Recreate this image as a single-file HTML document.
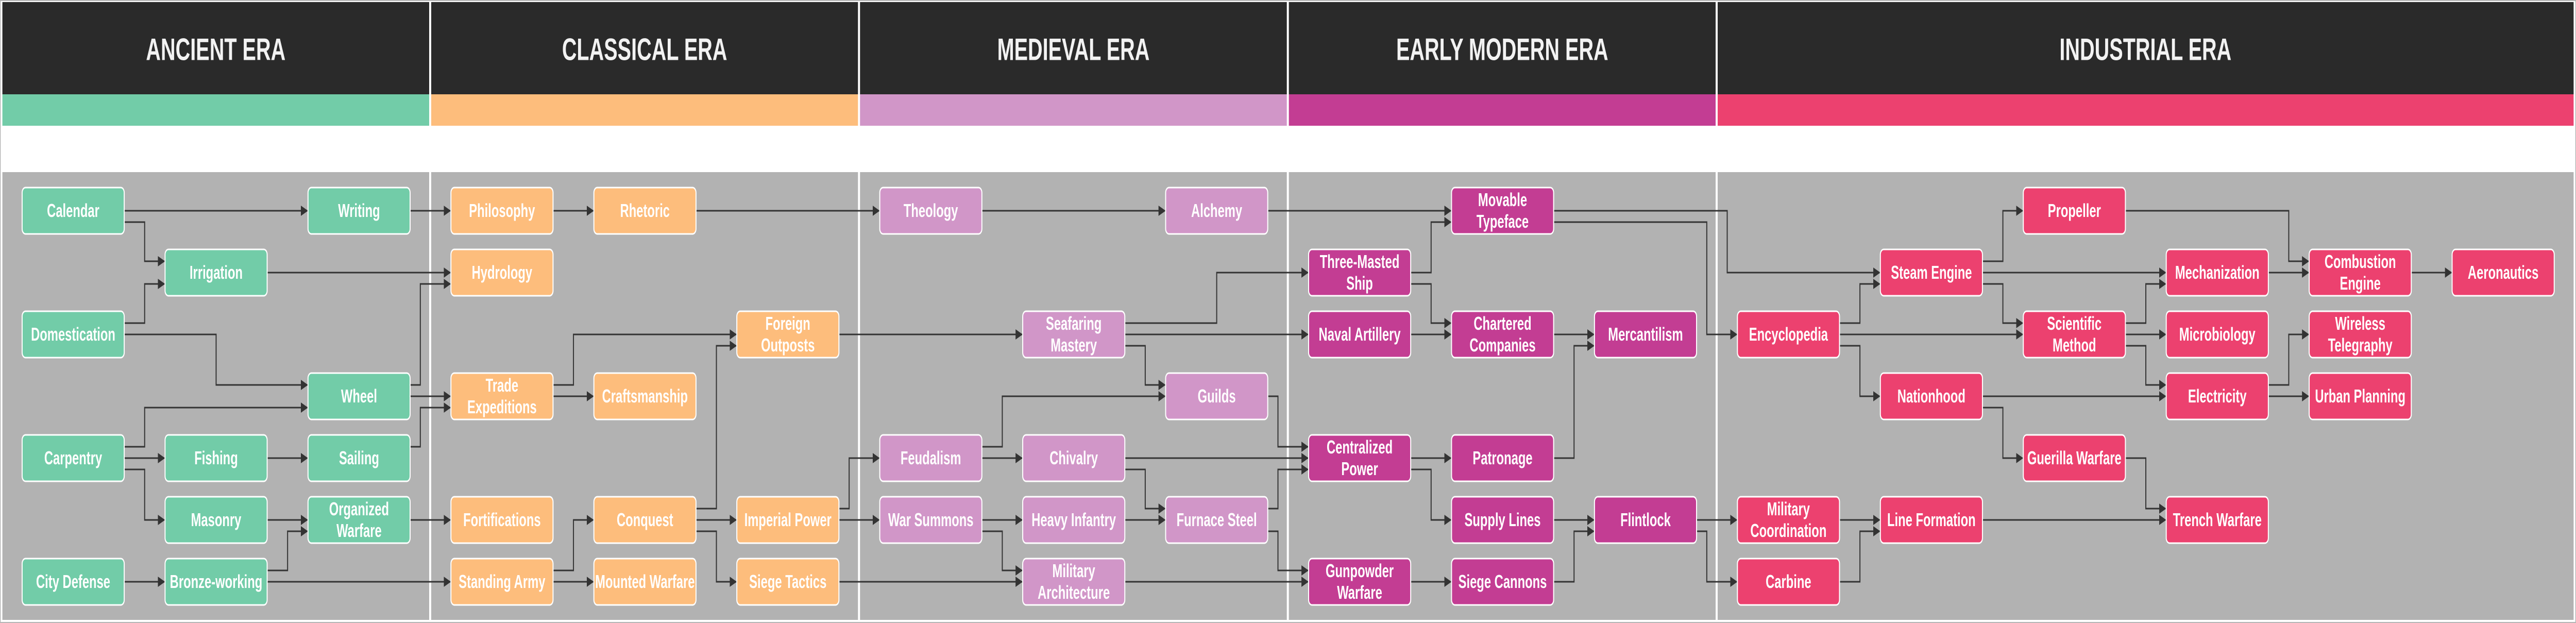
<!DOCTYPE html>
<html><head><meta charset="utf-8"><style>
html,body{margin:0;padding:0;background:#fff;width:100%;height:100%;overflow:hidden}
svg{display:block;width:100vw;height:100vh}
.h{font-family:"Liberation Sans",Arial,sans-serif;font-weight:bold;font-size:60px;fill:#f2f2f2;text-anchor:middle;dominant-baseline:central}
.t{font-family:"Liberation Sans",Arial,sans-serif;font-weight:bold;font-size:36px;fill:#fff;text-anchor:middle;dominant-baseline:central}
.n rect{stroke:#fff;stroke-width:3}
.e path{fill:none;stroke:#333;stroke-width:3;marker-end:url(#a)}
</style></head><body>
<svg viewBox="0 0 7569 1209" preserveAspectRatio="none" xmlns="http://www.w3.org/2000/svg">
<defs><marker id="a" markerUnits="userSpaceOnUse" markerWidth="22" markerHeight="22" refX="21" refY="10" orient="auto"><path d="M0,0 L21,10 L0,20 z" fill="#333"/></marker></defs>
<rect x="0" y="0" width="7569" height="1209" fill="#fff" stroke="#b5b5b5" stroke-width="4"/>
<rect x="7" y="4" width="1254" height="179" fill="#2a2a2a"/><rect x="7" y="183" width="1254" height="61" fill="#72cca8"/>
<rect x="1267" y="4" width="1254" height="179" fill="#2a2a2a"/><rect x="1267" y="183" width="1254" height="61" fill="#fdbd7c"/>
<rect x="2527" y="4" width="1254" height="179" fill="#2a2a2a"/><rect x="2527" y="183" width="1254" height="61" fill="#d196c8"/>
<rect x="3787" y="4" width="1254" height="179" fill="#2a2a2a"/><rect x="3787" y="183" width="1254" height="61" fill="#c33d93"/>
<rect x="5047" y="4" width="2515" height="179" fill="#2a2a2a"/><rect x="5047" y="183" width="2515" height="61" fill="#ec416f"/>
<text class="h" x="634" y="96">ANCIENT ERA</text>
<text class="h" x="1894" y="96">CLASSICAL ERA</text>
<text class="h" x="3154" y="96">MEDIEVAL ERA</text>
<text class="h" x="4414" y="96">EARLY MODERN ERA</text>
<text class="h" x="6304" y="96">INDUSTRIAL ERA</text>
<rect x="7" y="334" width="1254" height="869" fill="#b2b2b2"/>
<rect x="1267" y="334" width="1254" height="869" fill="#b2b2b2"/>
<rect x="2527" y="334" width="1254" height="869" fill="#b2b2b2"/>
<rect x="3787" y="334" width="1254" height="869" fill="#b2b2b2"/>
<rect x="5047" y="334" width="2515" height="869" fill="#b2b2b2"/>
<g class="e">
<path d="M365,409H905"/>
<path d="M365,431H425V507H485"/>
<path d="M365,627H425V551H485"/>
<path d="M365,649H635V747H905"/>
<path d="M365,867H425V791H905"/>
<path d="M365,889H485"/>
<path d="M365,911H425V1009H485"/>
<path d="M785,889H905"/>
<path d="M785,1009H905"/>
<path d="M785,1107H845V1031H905"/>
<path d="M365,1129H485"/>
<path d="M1205,409H1325"/>
<path d="M785,529H1325"/>
<path d="M1205,747H1235V551H1325"/>
<path d="M1205,769H1325"/>
<path d="M1205,867H1235V791H1325"/>
<path d="M1205,1009H1325"/>
<path d="M785,1129H1325"/>
<path d="M1625,409H1745"/>
<path d="M2045,409H2585"/>
<path d="M1625,747H1685V649H2165"/>
<path d="M1625,769H1745"/>
<path d="M2045,987H2105V671H2165"/>
<path d="M2045,1009H2165"/>
<path d="M2045,1031H2105V1129H2165"/>
<path d="M1625,1107H1685V1009H1745"/>
<path d="M1625,1129H1745"/>
<path d="M2465,987H2495V889H2585"/>
<path d="M2465,1009H2585"/>
<path d="M2465,1129H3005"/>
<path d="M2465,649H3005"/>
<path d="M2885,409H3425"/>
<path d="M3725,409H4265"/>
<path d="M3305,627H3575V529H3845"/>
<path d="M3305,649H3845"/>
<path d="M3305,671H3365V747H3425"/>
<path d="M2885,867H2945V769H3425"/>
<path d="M2885,889H3005"/>
<path d="M3305,889H3845"/>
<path d="M3305,911H3365V987H3425"/>
<path d="M2885,1009H3005"/>
<path d="M2885,1031H2945V1107H3005"/>
<path d="M3305,1009H3425"/>
<path d="M3725,769H3755V867H3845"/>
<path d="M3725,987H3755V911H3845"/>
<path d="M3725,1031H3755V1107H3845"/>
<path d="M3305,1129H3845"/>
<path d="M4145,529H4205V431H4265"/>
<path d="M4145,551H4205V627H4265"/>
<path d="M4145,649H4265"/>
<path d="M4565,649H4685"/>
<path d="M4565,889H4625V671H4685"/>
<path d="M4145,889H4265"/>
<path d="M4145,911H4205V1009H4265"/>
<path d="M4565,1009H4685"/>
<path d="M4565,1129H4625V1031H4685"/>
<path d="M4145,1129H4265"/>
<path d="M4565,409H5075V529H5525"/>
<path d="M4565,431H5015V649H5105"/>
<path d="M4985,1009H5105"/>
<path d="M4985,1031H5015V1129H5105"/>
<path d="M5405,627H5465V551H5525"/>
<path d="M5405,649H5945"/>
<path d="M5405,671H5465V769H5525"/>
<path d="M5825,507H5885V409H5945"/>
<path d="M5825,529H6365"/>
<path d="M5825,551H5885V627H5945"/>
<path d="M5825,769H6365"/>
<path d="M5825,791H5885V889H5945"/>
<path d="M5405,1009H5525"/>
<path d="M5405,1129H5465V1031H5525"/>
<path d="M6245,409H6725V507H6785"/>
<path d="M6245,627H6305V551H6365"/>
<path d="M6245,649H6365"/>
<path d="M6245,671H6305V747H6365"/>
<path d="M6245,889H6305V987H6365"/>
<path d="M5825,1009H6365"/>
<path d="M6665,529H6785"/>
<path d="M6665,747H6725V649H6785"/>
<path d="M6665,769H6785"/>
<path d="M7085,529H7205"/>
</g>
<g class="n">
<g fill="#72cca8">
<rect x="65" y="364" width="300" height="90" rx="10"/>
<rect x="65" y="604" width="300" height="90" rx="10"/>
<rect x="65" y="844" width="300" height="90" rx="10"/>
<rect x="65" y="1084" width="300" height="90" rx="10"/>
<rect x="485" y="484" width="300" height="90" rx="10"/>
<rect x="485" y="844" width="300" height="90" rx="10"/>
<rect x="485" y="964" width="300" height="90" rx="10"/>
<rect x="485" y="1084" width="300" height="90" rx="10"/>
<rect x="905" y="364" width="300" height="90" rx="10"/>
<rect x="905" y="724" width="300" height="90" rx="10"/>
<rect x="905" y="844" width="300" height="90" rx="10"/>
<rect x="905" y="964" width="300" height="90" rx="10"/>
</g>
<g fill="#fdbd7c">
<rect x="1325" y="364" width="300" height="90" rx="10"/>
<rect x="1325" y="484" width="300" height="90" rx="10"/>
<rect x="1325" y="724" width="300" height="90" rx="10"/>
<rect x="1325" y="964" width="300" height="90" rx="10"/>
<rect x="1325" y="1084" width="300" height="90" rx="10"/>
<rect x="1745" y="364" width="300" height="90" rx="10"/>
<rect x="1745" y="724" width="300" height="90" rx="10"/>
<rect x="1745" y="964" width="300" height="90" rx="10"/>
<rect x="1745" y="1084" width="300" height="90" rx="10"/>
<rect x="2165" y="604" width="300" height="90" rx="10"/>
<rect x="2165" y="964" width="300" height="90" rx="10"/>
<rect x="2165" y="1084" width="300" height="90" rx="10"/>
</g>
<g fill="#d196c8">
<rect x="2585" y="364" width="300" height="90" rx="10"/>
<rect x="2585" y="844" width="300" height="90" rx="10"/>
<rect x="2585" y="964" width="300" height="90" rx="10"/>
<rect x="3005" y="604" width="300" height="90" rx="10"/>
<rect x="3005" y="844" width="300" height="90" rx="10"/>
<rect x="3005" y="964" width="300" height="90" rx="10"/>
<rect x="3005" y="1084" width="300" height="90" rx="10"/>
<rect x="3425" y="364" width="300" height="90" rx="10"/>
<rect x="3425" y="724" width="300" height="90" rx="10"/>
<rect x="3425" y="964" width="300" height="90" rx="10"/>
</g>
<g fill="#c33d93">
<rect x="3845" y="484" width="300" height="90" rx="10"/>
<rect x="3845" y="604" width="300" height="90" rx="10"/>
<rect x="3845" y="844" width="300" height="90" rx="10"/>
<rect x="3845" y="1084" width="300" height="90" rx="10"/>
<rect x="4265" y="364" width="300" height="90" rx="10"/>
<rect x="4265" y="604" width="300" height="90" rx="10"/>
<rect x="4265" y="844" width="300" height="90" rx="10"/>
<rect x="4265" y="964" width="300" height="90" rx="10"/>
<rect x="4265" y="1084" width="300" height="90" rx="10"/>
<rect x="4685" y="604" width="300" height="90" rx="10"/>
<rect x="4685" y="964" width="300" height="90" rx="10"/>
</g>
<g fill="#ec416f">
<rect x="5105" y="604" width="300" height="90" rx="10"/>
<rect x="5105" y="964" width="300" height="90" rx="10"/>
<rect x="5105" y="1084" width="300" height="90" rx="10"/>
<rect x="5525" y="484" width="300" height="90" rx="10"/>
<rect x="5525" y="724" width="300" height="90" rx="10"/>
<rect x="5525" y="964" width="300" height="90" rx="10"/>
<rect x="5945" y="364" width="300" height="90" rx="10"/>
<rect x="5945" y="604" width="300" height="90" rx="10"/>
<rect x="5945" y="844" width="300" height="90" rx="10"/>
<rect x="6365" y="484" width="300" height="90" rx="10"/>
<rect x="6365" y="604" width="300" height="90" rx="10"/>
<rect x="6365" y="724" width="300" height="90" rx="10"/>
<rect x="6365" y="964" width="300" height="90" rx="10"/>
<rect x="6785" y="484" width="300" height="90" rx="10"/>
<rect x="6785" y="604" width="300" height="90" rx="10"/>
<rect x="6785" y="724" width="300" height="90" rx="10"/>
<rect x="7205" y="484" width="300" height="90" rx="10"/>
</g>
</g>
<g>
<text class="t" x="215" y="409">Calendar</text>
<text class="t" x="215" y="649">Domestication</text>
<text class="t" x="215" y="889">Carpentry</text>
<text class="t" x="215" y="1129">City Defense</text>
<text class="t" x="635" y="529">Irrigation</text>
<text class="t" x="635" y="889">Fishing</text>
<text class="t" x="635" y="1009">Masonry</text>
<text class="t" x="635" y="1129">Bronze-working</text>
<text class="t" x="1055" y="409">Writing</text>
<text class="t" x="1055" y="769">Wheel</text>
<text class="t" x="1055" y="889">Sailing</text>
<text class="t" x="1055" y="988">Organized</text><text class="t" x="1055" y="1030">Warfare</text>
<text class="t" x="1475" y="409">Philosophy</text>
<text class="t" x="1475" y="529">Hydrology</text>
<text class="t" x="1475" y="748">Trade</text><text class="t" x="1475" y="790">Expeditions</text>
<text class="t" x="1475" y="1009">Fortifications</text>
<text class="t" x="1475" y="1129">Standing Army</text>
<text class="t" x="1895" y="409">Rhetoric</text>
<text class="t" x="1895" y="769">Craftsmanship</text>
<text class="t" x="1895" y="1009">Conquest</text>
<text class="t" x="1895" y="1129">Mounted Warfare</text>
<text class="t" x="2315" y="628">Foreign</text><text class="t" x="2315" y="670">Outposts</text>
<text class="t" x="2315" y="1009">Imperial Power</text>
<text class="t" x="2315" y="1129">Siege Tactics</text>
<text class="t" x="2735" y="409">Theology</text>
<text class="t" x="2735" y="889">Feudalism</text>
<text class="t" x="2735" y="1009">War Summons</text>
<text class="t" x="3155" y="628">Seafaring</text><text class="t" x="3155" y="670">Mastery</text>
<text class="t" x="3155" y="889">Chivalry</text>
<text class="t" x="3155" y="1009">Heavy Infantry</text>
<text class="t" x="3155" y="1108">Military</text><text class="t" x="3155" y="1150">Architecture</text>
<text class="t" x="3575" y="409">Alchemy</text>
<text class="t" x="3575" y="769">Guilds</text>
<text class="t" x="3575" y="1009">Furnace Steel</text>
<text class="t" x="3995" y="508">Three-Masted</text><text class="t" x="3995" y="550">Ship</text>
<text class="t" x="3995" y="649">Naval Artillery</text>
<text class="t" x="3995" y="868">Centralized</text><text class="t" x="3995" y="910">Power</text>
<text class="t" x="3995" y="1108">Gunpowder</text><text class="t" x="3995" y="1150">Warfare</text>
<text class="t" x="4415" y="388">Movable</text><text class="t" x="4415" y="430">Typeface</text>
<text class="t" x="4415" y="628">Chartered</text><text class="t" x="4415" y="670">Companies</text>
<text class="t" x="4415" y="889">Patronage</text>
<text class="t" x="4415" y="1009">Supply Lines</text>
<text class="t" x="4415" y="1129">Siege Cannons</text>
<text class="t" x="4835" y="649">Mercantilism</text>
<text class="t" x="4835" y="1009">Flintlock</text>
<text class="t" x="5255" y="649">Encyclopedia</text>
<text class="t" x="5255" y="988">Military</text><text class="t" x="5255" y="1030">Coordination</text>
<text class="t" x="5255" y="1129">Carbine</text>
<text class="t" x="5675" y="529">Steam Engine</text>
<text class="t" x="5675" y="769">Nationhood</text>
<text class="t" x="5675" y="1009">Line Formation</text>
<text class="t" x="6095" y="409">Propeller</text>
<text class="t" x="6095" y="628">Scientific</text><text class="t" x="6095" y="670">Method</text>
<text class="t" x="6095" y="889">Guerilla Warfare</text>
<text class="t" x="6515" y="529">Mechanization</text>
<text class="t" x="6515" y="649">Microbiology</text>
<text class="t" x="6515" y="769">Electricity</text>
<text class="t" x="6515" y="1009">Trench Warfare</text>
<text class="t" x="6935" y="508">Combustion</text><text class="t" x="6935" y="550">Engine</text>
<text class="t" x="6935" y="628">Wireless</text><text class="t" x="6935" y="670">Telegraphy</text>
<text class="t" x="6935" y="769">Urban Planning</text>
<text class="t" x="7355" y="529">Aeronautics</text>
</g>
</svg>
</body></html>
